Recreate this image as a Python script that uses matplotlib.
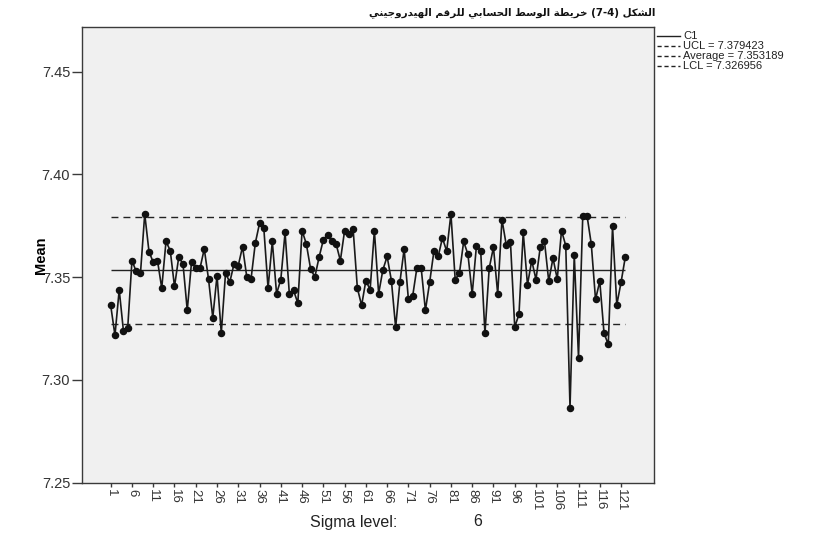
import matplotlib
matplotlib.use("Agg")
import matplotlib.pyplot as plt
from matplotlib.lines import Line2D
import numpy as np

# ---------------- data ----------------
sample = list(range(1, 123))
means = [
    7.3362, 7.3216, 7.3438, 7.3236, 7.3253, 7.3580, 7.3527, 7.3519, 7.3807, 7.3624,
    7.3572, 7.3580, 7.3446, 7.3673, 7.3629, 7.3454, 7.3597, 7.3564, 7.3338, 7.3572,
    7.3543, 7.3543, 7.3637, 7.3490, 7.3302, 7.3507, 7.3227, 7.3519, 7.3475, 7.3564,
    7.3556, 7.3648, 7.3500, 7.3491, 7.3665, 7.3762, 7.3738, 7.3446, 7.3673, 7.3419,
    7.3488, 7.3717, 7.3419, 7.3435, 7.3373, 7.3726, 7.3661, 7.3540, 7.3500, 7.3597,
    7.3681, 7.3707, 7.3673, 7.3661, 7.3580, 7.3726, 7.3710, 7.3734, 7.3446, 7.3362,
    7.3483, 7.3438, 7.3726, 7.3419, 7.3535, 7.3600, 7.3483, 7.3255, 7.3475, 7.3637,
    7.3391, 7.3407, 7.3545, 7.3545, 7.3338, 7.3475, 7.3626, 7.3600, 7.3690, 7.3626,
    7.3807, 7.3488, 7.3519, 7.3673, 7.3610, 7.3417, 7.3653, 7.3626, 7.3226, 7.3543,
    7.3645, 7.3417, 7.3780, 7.3657, 7.3670, 7.3257, 7.3318, 7.3718, 7.3462, 7.3580,
    7.3488, 7.3645, 7.3673, 7.3480, 7.3592, 7.3490, 7.3726, 7.3653, 7.2865, 7.3608,
    7.3108, 7.3799, 7.3799, 7.3661, 7.3391, 7.3480, 7.3227, 7.3172, 7.3746, 7.3365,
    7.3474, 7.3597,
]
ucl = 7.379423
average = 7.353189
lcl = 7.326956
yticks = [7.25, 7.30, 7.35, 7.40, 7.45]
ytick_labels = ["7.25", "7.30", "7.35", "7.40", "7.45"]
xticks = list(range(1, 122, 5))
xtick_labels = [str(v) for v in xticks]
legend_labels = ["C1", "UCL = 7.379423", "Average = 7.353189", "LCL = 7.326956"]
title_tokens = ["الشكل", "(7-4)", "خريطة", "الوسط", "الحسابي", "للرقم", "الهيدروجيني"]
ylabel = "Mean"
footer_label = "Sigma level:"
footer_value = "6"

# ------------- minimal Arabic shaping (visual order) -------------
FORMS = {
    "ا": ("\uFE8D", "\uFE8E", None, None),
    "ب": ("\uFE8F", "\uFE90", "\uFE91", "\uFE92"),
    "ة": ("\uFE93", "\uFE94", None, None),
    "ت": ("\uFE95", "\uFE96", "\uFE97", "\uFE98"),
    "ج": ("\uFE9D", "\uFE9E", "\uFE9F", "\uFEA0"),
    "ح": ("\uFEA1", "\uFEA2", "\uFEA3", "\uFEA4"),
    "خ": ("\uFEA5", "\uFEA6", "\uFEA7", "\uFEA8"),
    "د": ("\uFEA9", "\uFEAA", None, None),
    "ر": ("\uFEAD", "\uFEAE", None, None),
    "س": ("\uFEB1", "\uFEB2", "\uFEB3", "\uFEB4"),
    "ش": ("\uFEB5", "\uFEB6", "\uFEB7", "\uFEB8"),
    "ط": ("\uFEC1", "\uFEC2", "\uFEC3", "\uFEC4"),
    "ق": ("\uFED5", "\uFED6", "\uFED7", "\uFED8"),
    "ك": ("\uFED9", "\uFEDA", "\uFEDB", "\uFEDC"),
    "ل": ("\uFEDD", "\uFEDE", "\uFEDF", "\uFEE0"),
    "م": ("\uFEE1", "\uFEE2", "\uFEE3", "\uFEE4"),
    "ن": ("\uFEE5", "\uFEE6", "\uFEE7", "\uFEE8"),
    "ه": ("\uFEE9", "\uFEEA", "\uFEEB", "\uFEEC"),
    "و": ("\uFEED", "\uFEEE", None, None),
    "ي": ("\uFEF1", "\uFEF2", "\uFEF3", "\uFEF4"),
}


def dual(ch):
    return ch in FORMS and FORMS[ch][2] is not None


def shape_word(word):
    out = []
    n = len(word)
    for i, ch in enumerate(word):
        if ch not in FORMS:
            out.append(ch)
            continue
        prev_j = i > 0 and dual(word[i - 1])
        next_j = dual(ch) and i < n - 1 and word[i + 1] in FORMS
        iso, fin, ini, med = FORMS[ch]
        if prev_j and next_j:
            out.append(med)
        elif prev_j:
            out.append(fin)
        elif next_j:
            out.append(ini)
        else:
            out.append(iso)
    return "".join(reversed(out))


def visual(tokens):
    parts = []
    for t in tokens:
        if any(c in FORMS for c in t):
            parts.append(shape_word(t))
        else:
            parts.append(t)
    return " ".join(reversed(parts))


# ---------------- figure ----------------
W, H = 830, 538
fig = plt.figure(figsize=(W / 100, H / 100), dpi=100)
fig.patch.set_facecolor("white")

ax_l, ax_r, ax_t, ax_b = 82, 654, 27, 482.5
ax = fig.add_axes([ax_l / W, 1 - ax_b / H, (ax_r - ax_l) / W, (ax_b - ax_t) / H])
ax.set_facecolor("#f0f0f0")
for s in ax.spines.values():
    s.set_color("#3a3a3a")
    s.set_linewidth(1.0)

x = np.array(sample)
y = np.array(means)

ax.hlines([ucl, lcl], x[0], x[-1], colors="#222222", linestyles=(0, (5, 3.6)), linewidth=1.0)
ax.hlines([average], x[0], x[-1], colors="#222222", linestyles="-", linewidth=1.0)
ax.plot(x, y, color="#1a1a1a", linewidth=1.2, marker="o", markersize=4.4,
        markerfacecolor="#111111", markeredgecolor="#111111", zorder=3)

ax.set_xlim(-5.75, 128.75)
ax.set_ylim(7.25, 7.4717)
ax.set_yticks(yticks)
ax.set_yticklabels(ytick_labels, fontsize=10.5, family="Liberation Sans", color="#333333")
ax.set_xticks(xticks)
ax.set_xticklabels(xtick_labels, fontsize=9.5, family="Liberation Sans", rotation=-90,
                   color="#333333", va="top", ha="center")
ax.tick_params(axis="y", direction="out", length=7, width=1.0, color="#3a3a3a", pad=1.5)
ax.tick_params(axis="x", direction="out", length=3, width=1.0, color="#3a3a3a", pad=1.5)

ax.set_ylabel(ylabel, fontsize=10.5, fontweight="bold", family="Liberation Sans")
ax.yaxis.set_label_coords((48 - ax_l) / (ax_r - ax_l), 0.5)

# title
fig.text(655 / W, 1 - 13 / H, visual(title_tokens), fontsize=7.4, fontweight="bold",
         family=["DejaVu Sans"], ha="right", va="center", color="#111111")

# legend (manual, outside right)
styles = ["-", (0, (3, 2)), (0, (3, 2)), (0, (3, 2))]
for i, (lab, ls) in enumerate(zip(legend_labels, styles)):
    yy = 1 - (36 + i * 10.0) / H
    fig.add_artist(Line2D([657 / W, 680 / W], [yy, yy], color="#222222", linewidth=1.0,
                          linestyle=ls, transform=fig.transFigure))
    fig.text(683 / W, yy, lab, fontsize=8, family="Liberation Sans", ha="left", va="center",
             color="#222222")

# footer
fig.text(310 / W, 1 - 522 / H, footer_label, fontsize=11.5, family="Liberation Sans",
         ha="left", va="center", color="#222222")
fig.text(478 / W, 1 - 522 / H, footer_value, fontsize=11.5, family="Liberation Sans",
         ha="center", va="center", color="#222222")

fig.savefig("out.png", dpi=100)
